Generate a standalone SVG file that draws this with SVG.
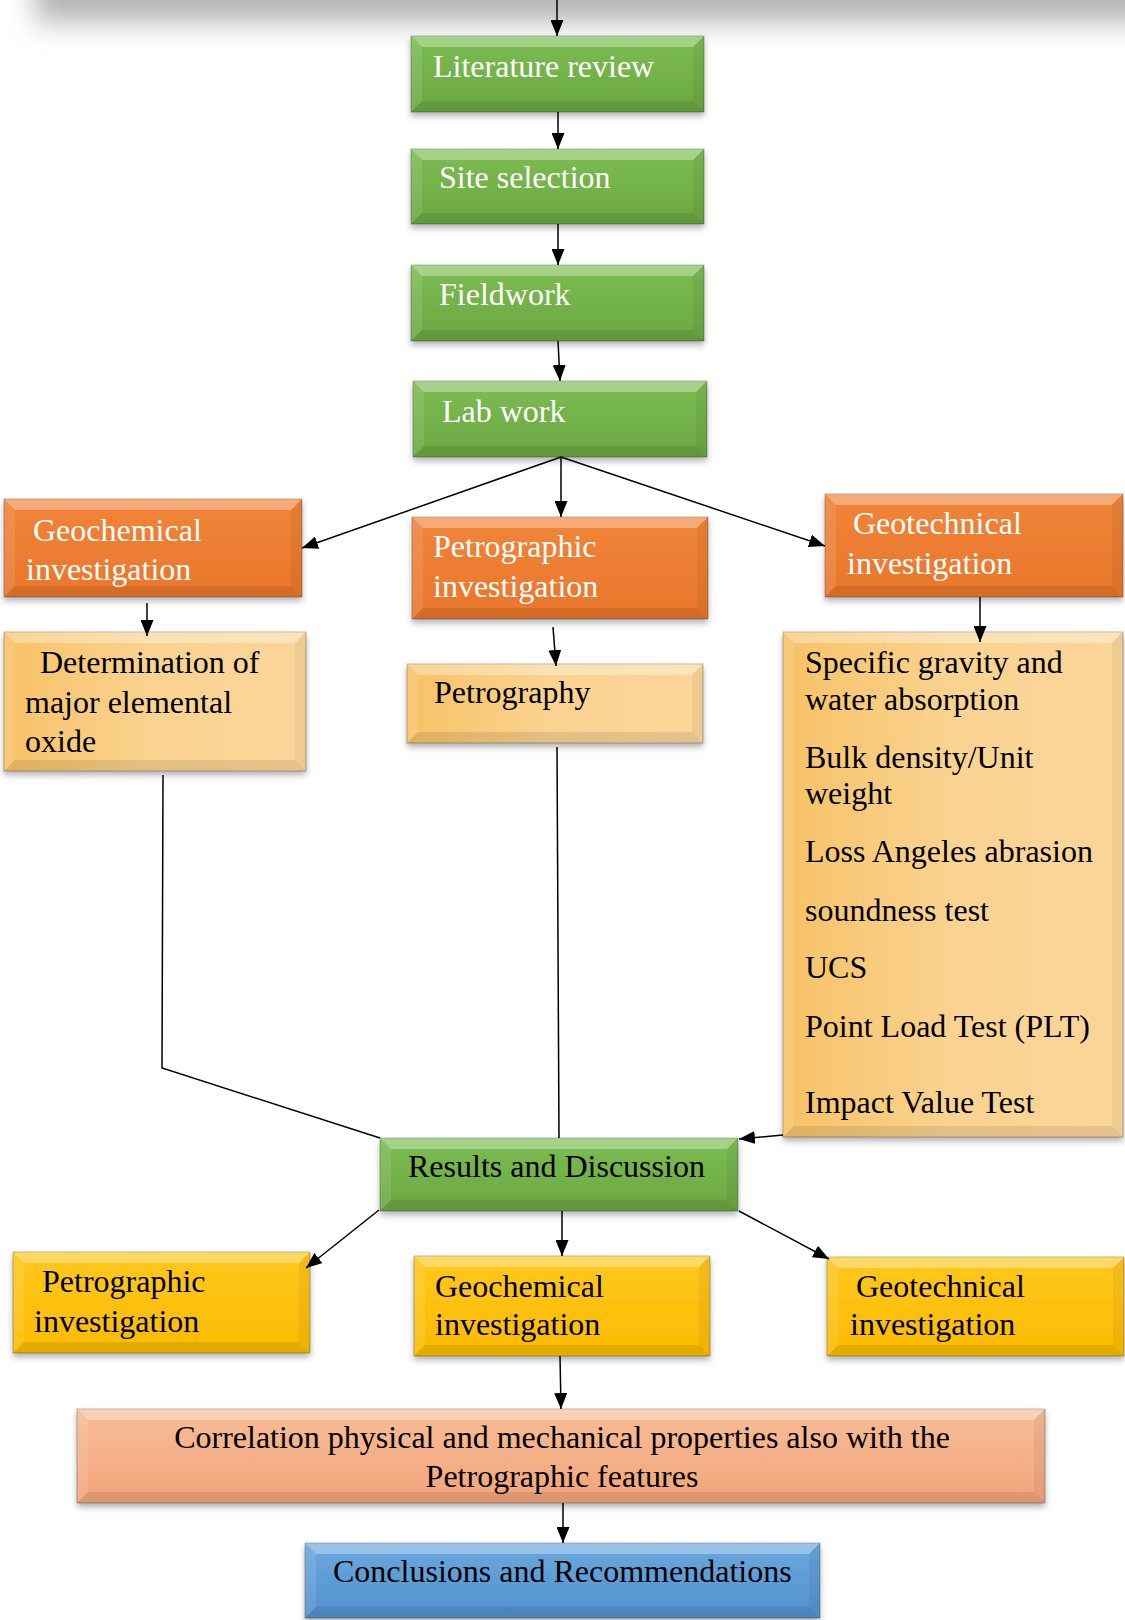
<svg xmlns="http://www.w3.org/2000/svg" width="1125" height="1620" viewBox="0 0 1125 1620">
<defs>
<style>
text{font-family:"Liberation Serif","Times New Roman",serif;font-size:32px;}
.w{fill:#ffffff;}
.k{fill:#000000;}
.box{stroke:rgba(0,0,0,0.25);stroke-width:1;filter:url(#sh);}
.bt{fill:rgba(255,255,255,0.32);}
.bl{fill:rgba(255,255,255,0.10);}
.br{fill:rgba(0,0,0,0.05);}
.bb{fill:rgba(0,0,0,0.09);}
.conn path{fill:none;stroke:#000;stroke-width:1.5;}
.arr{marker-end:url(#ah);}
</style>
<filter id="sh" x="-10%" y="-10%" width="120%" height="130%">
<feDropShadow dx="0" dy="4" stdDeviation="3" flood-color="#000" flood-opacity="0.3"/>
</filter>
<filter id="blur" filterUnits="userSpaceOnUse" x="-100" y="-200" width="1400" height="300">
<feGaussianBlur stdDeviation="14"/>
</filter>
<linearGradient id="gGreen" x1="0" y1="0" x2="0" y2="1"><stop offset="0" stop-color="#7dbd52"/><stop offset="1" stop-color="#6aa742"/></linearGradient>
<linearGradient id="gOrange" x1="0" y1="0" x2="0" y2="1"><stop offset="0" stop-color="#f08539"/><stop offset="1" stop-color="#e9762b"/></linearGradient>
<linearGradient id="gLight" x1="0" y1="0" x2="1" y2="0"><stop offset="0" stop-color="#f7c266"/><stop offset="0.5" stop-color="#fad391"/><stop offset="1" stop-color="#fbd699"/></linearGradient>
<linearGradient id="gGold" x1="0" y1="0" x2="0" y2="1"><stop offset="0" stop-color="#ffc81f"/><stop offset="1" stop-color="#fbbb00"/></linearGradient>
<linearGradient id="gSalmon" x1="0" y1="0" x2="0" y2="1"><stop offset="0" stop-color="#f7bd97"/><stop offset="1" stop-color="#f2a47a"/></linearGradient>
<linearGradient id="gBlue" x1="0" y1="0" x2="0" y2="1"><stop offset="0" stop-color="#6aa8de"/><stop offset="1" stop-color="#5290cd"/></linearGradient>
<marker id="ah" viewBox="0 0 16 13" refX="16" refY="6.5" markerWidth="16" markerHeight="13" markerUnits="userSpaceOnUse" orient="auto"><path d="M0,0 L16,6.5 L0,13 z" fill="#000"/></marker>
</defs>
<rect width="1125" height="1620" fill="#ffffff"/>
<rect x="35" y="-90" width="1200" height="112" fill="#b4b4b4" filter="url(#blur)"/>

<g id="n-literature">
<rect class="box" x="411" y="36" width="293" height="76" fill="url(#gGreen)"/>
<path class="bt" d="M411,36 H704 L693,47 H422 Z"/><path class="bl" d="M411,36 L422,47 V101 L411,112 Z"/><path class="br" d="M704,36 V112 L693,101 V47 Z"/><path class="bb" d="M411,112 L422,101 H693 L704,112 Z"/>
<text class="w" x="433" y="77">Literature review</text>
</g>
<g id="n-site">
<rect class="box" x="411" y="149" width="293" height="75" fill="url(#gGreen)"/>
<path class="bt" d="M411,149 H704 L693,160 H422 Z"/><path class="bl" d="M411,149 L422,160 V213 L411,224 Z"/><path class="br" d="M704,149 V224 L693,213 V160 Z"/><path class="bb" d="M411,224 L422,213 H693 L704,224 Z"/>
<text class="w" x="439" y="188">Site selection</text>
</g>
<g id="n-fieldwork">
<rect class="box" x="411" y="265" width="293" height="76" fill="url(#gGreen)"/>
<path class="bt" d="M411,265 H704 L693,276 H422 Z"/><path class="bl" d="M411,265 L422,276 V330 L411,341 Z"/><path class="br" d="M704,265 V341 L693,330 V276 Z"/><path class="bb" d="M411,341 L422,330 H693 L704,341 Z"/>
<text class="w" x="439" y="305">Fieldwork</text>
</g>
<g id="n-lab">
<rect class="box" x="413" y="381" width="294" height="76" fill="url(#gGreen)"/>
<path class="bt" d="M413,381 H707 L696,392 H424 Z"/><path class="bl" d="M413,381 L424,392 V446 L413,457 Z"/><path class="br" d="M707,381 V457 L696,446 V392 Z"/><path class="bb" d="M413,457 L424,446 H696 L707,457 Z"/>
<text class="w" x="442" y="422">Lab work</text>
</g>
<g id="n-geochem1">
<rect class="box" x="4" y="499" width="298" height="98" fill="url(#gOrange)"/>
<path class="bt" d="M4,499 H302 L291,510 H15 Z"/><path class="bl" d="M4,499 L15,510 V586 L4,597 Z"/><path class="br" d="M302,499 V597 L291,586 V510 Z"/><path class="bb" d="M4,597 L15,586 H291 L302,597 Z"/>
<text class="w" x="33" y="541">Geochemical</text>
<text class="w" x="26" y="580">investigation</text>
</g>
<g id="n-petro1">
<rect class="box" x="412" y="517" width="296" height="102" fill="url(#gOrange)"/>
<path class="bt" d="M412,517 H708 L697,528 H423 Z"/><path class="bl" d="M412,517 L423,528 V608 L412,619 Z"/><path class="br" d="M708,517 V619 L697,608 V528 Z"/><path class="bb" d="M412,619 L423,608 H697 L708,619 Z"/>
<text class="w" x="433" y="557">Petrographic</text>
<text class="w" x="433" y="597">investigation</text>
</g>
<g id="n-geotech1">
<rect class="box" x="825" y="494" width="298" height="103" fill="url(#gOrange)"/>
<path class="bt" d="M825,494 H1123 L1112,505 H836 Z"/><path class="bl" d="M825,494 L836,505 V586 L825,597 Z"/><path class="br" d="M1123,494 V597 L1112,586 V505 Z"/><path class="bb" d="M825,597 L836,586 H1112 L1123,597 Z"/>
<text class="w" x="853" y="534">Geotechnical</text>
<text class="w" x="847" y="574">investigation</text>
</g>
<g id="n-determination">
<rect class="box" x="4" y="632" width="302" height="139" fill="url(#gLight)"/>
<path class="bt" d="M4,632 H306 L295,643 H15 Z"/><path class="bl" d="M4,632 L15,643 V760 L4,771 Z"/><path class="br" d="M306,632 V771 L295,760 V643 Z"/><path class="bb" d="M4,771 L15,760 H295 L306,771 Z"/>
<text class="k" x="40" y="673">Determination of</text>
<text class="k" x="25" y="713">major elemental</text>
<text class="k" x="25" y="752">oxide</text>
</g>
<g id="n-petrography">
<rect class="box" x="407" y="664" width="296" height="79" fill="url(#gLight)"/>
<path class="bt" d="M407,664 H703 L692,675 H418 Z"/><path class="bl" d="M407,664 L418,675 V732 L407,743 Z"/><path class="br" d="M703,664 V743 L692,732 V675 Z"/><path class="bb" d="M407,743 L418,732 H692 L703,743 Z"/>
<text class="k" x="434" y="703">Petrography</text>
</g>
<g id="n-tests">
<rect class="box" x="783" y="632" width="340" height="505" fill="url(#gLight)"/>
<path class="bt" d="M783,632 H1123 L1112,643 H794 Z"/><path class="bl" d="M783,632 L794,643 V1126 L783,1137 Z"/><path class="br" d="M1123,632 V1137 L1112,1126 V643 Z"/><path class="bb" d="M783,1137 L794,1126 H1112 L1123,1137 Z"/>
<text class="k" x="805" y="673">Specific gravity and</text>
<text class="k" x="805" y="710">water absorption</text>
<text class="k" x="805" y="768">Bulk density/Unit</text>
<text class="k" x="805" y="804">weight</text>
<text class="k" x="805" y="862">Loss Angeles abrasion</text>
<text class="k" x="805" y="921">soundness test</text>
<text class="k" x="805" y="978">UCS</text>
<text class="k" x="805" y="1037">Point Load Test (PLT)</text>
<text class="k" x="805" y="1113">Impact Value Test</text>
</g>
<g id="n-results">
<rect class="box" x="380" y="1138" width="358" height="73" fill="url(#gGreen)"/>
<path class="bt" d="M380,1138 H738 L727,1149 H391 Z"/><path class="bl" d="M380,1138 L391,1149 V1200 L380,1211 Z"/><path class="br" d="M738,1138 V1211 L727,1200 V1149 Z"/><path class="bb" d="M380,1211 L391,1200 H727 L738,1211 Z"/>
<text class="k" x="408" y="1177">Results and Discussion</text>
</g>
<g id="n-petro2">
<rect class="box" x="13" y="1252" width="297" height="101" fill="url(#gGold)"/>
<path class="bt" d="M13,1252 H310 L299,1263 H24 Z"/><path class="bl" d="M13,1252 L24,1263 V1342 L13,1353 Z"/><path class="br" d="M310,1252 V1353 L299,1342 V1263 Z"/><path class="bb" d="M13,1353 L24,1342 H299 L310,1353 Z"/>
<text class="k" x="42" y="1292">Petrographic</text>
<text class="k" x="34" y="1332">investigation</text>
</g>
<g id="n-geochem2">
<rect class="box" x="414" y="1256" width="296" height="100" fill="url(#gGold)"/>
<path class="bt" d="M414,1256 H710 L699,1267 H425 Z"/><path class="bl" d="M414,1256 L425,1267 V1345 L414,1356 Z"/><path class="br" d="M710,1256 V1356 L699,1345 V1267 Z"/><path class="bb" d="M414,1356 L425,1345 H699 L710,1356 Z"/>
<text class="k" x="435" y="1297">Geochemical</text>
<text class="k" x="435" y="1335">investigation</text>
</g>
<g id="n-geotech2">
<rect class="box" x="827" y="1257" width="297" height="99" fill="url(#gGold)"/>
<path class="bt" d="M827,1257 H1124 L1113,1268 H838 Z"/><path class="bl" d="M827,1257 L838,1268 V1345 L827,1356 Z"/><path class="br" d="M1124,1257 V1356 L1113,1345 V1268 Z"/><path class="bb" d="M827,1356 L838,1345 H1113 L1124,1356 Z"/>
<text class="k" x="856" y="1297">Geotechnical</text>
<text class="k" x="850" y="1335">investigation</text>
</g>
<g id="n-correlation">
<rect class="box" x="77" y="1409" width="968" height="94" fill="url(#gSalmon)"/>
<path class="bt" d="M77,1409 H1045 L1034,1420 H88 Z"/><path class="bl" d="M77,1409 L88,1420 V1492 L77,1503 Z"/><path class="br" d="M1045,1409 V1503 L1034,1492 V1420 Z"/><path class="bb" d="M77,1503 L88,1492 H1034 L1045,1503 Z"/>
<text class="k" x="562" y="1448" text-anchor="middle">Correlation physical and mechanical properties also with the</text>
<text class="k" x="562" y="1487" text-anchor="middle">Petrographic features</text>
</g>
<g id="n-conclusions">
<rect class="box" x="305" y="1543" width="515" height="75" fill="url(#gBlue)"/>
<path class="bt" d="M305,1543 H820 L809,1554 H316 Z"/><path class="bl" d="M305,1543 L316,1554 V1607 L305,1618 Z"/><path class="br" d="M820,1543 V1618 L809,1607 V1554 Z"/><path class="bb" d="M305,1618 L316,1607 H809 L820,1618 Z"/>
<text class="k" x="333" y="1582">Conclusions and Recommendations</text>
</g>

<g id="connectors" class="conn">
<path class="arr" d="M557,0 L557,36"/>
<path class="arr" d="M558,112 L558,149"/>
<path class="arr" d="M558,224 L558,265"/>
<path class="arr" d="M558,341 L560,381"/>
<path class="arr" d="M561,457 L302,548"/>
<path class="arr" d="M561,457 L561,517"/>
<path class="arr" d="M561,457 L825,546"/>
<path class="arr" d="M147,603 L147,636"/>
<path class="arr" d="M553,627 L556,666"/>
<path class="arr" d="M980,597 L980,642"/>
<path d="M557,747 L559,1138"/>
<path d="M163,775 L162,1068 L380,1138"/>
<path class="arr" d="M783,1135 L739,1139"/>
<path class="arr" d="M379,1210 L306,1268"/>
<path class="arr" d="M562,1211 L562,1256"/>
<path class="arr" d="M739,1211 L829,1259"/>
<path class="arr" d="M560,1356 L561,1409"/>
<path class="arr" d="M563,1503 L563,1543"/>
</g>
</svg>
